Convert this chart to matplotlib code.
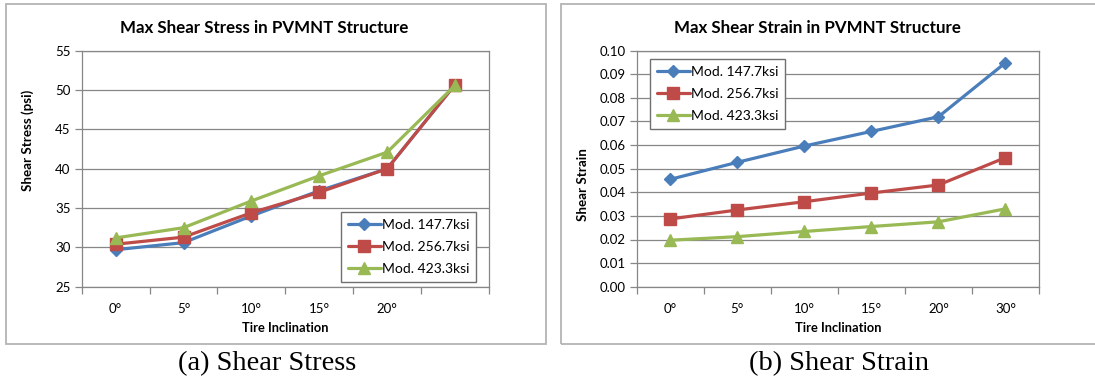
import matplotlib
matplotlib.use("Agg")
import matplotlib.pyplot as plt
from matplotlib.patches import Rectangle
from matplotlib.ticker import FixedLocator, FixedFormatter

# ---- data ----
stress_categories = ["0°", "5°", "10°", "15°", "20°", ""]
strain_categories = ["0°", "5°", "10°", "15°", "20°", "30°"]
series_labels = ["Mod. 147.7ksi", "Mod. 256.7ksi", "Mod. 423.3ksi"]

stress_147 = [29.7, 30.6, 34.0, 37.2, 40.0, 50.7]
stress_256 = [30.4, 31.3, 34.4, 37.0, 40.0, 50.7]
stress_423 = [31.2, 32.5, 35.9, 39.1, 42.1, 50.6]

strain_147 = [0.0455, 0.0527, 0.0596, 0.0658, 0.0720, 0.0949]
strain_256 = [0.0287, 0.0325, 0.0360, 0.0397, 0.0431, 0.0547]
strain_423 = [0.0197, 0.0212, 0.0234, 0.0255, 0.0275, 0.0330]

colors = ["#4A7EBB", "#BE4B48", "#98B954"]
markers = ["D", "s", "^"]
msizes = [6.5, 8, 8.5]

W, H = 1095, 381
fig = plt.figure(figsize=(W / 100, H / 100), dpi=100)
fig.patch.set_facecolor("white")

FONT = "Lato"
GRID = "#878787"


def fx(px):
    return px / W


def fy(py):
    return 1 - py / H


def panel(x0, y0, x1, y1):
    fig.add_artist(Rectangle((fx(x0), fy(y1)), fx(x1 - x0), (y1 - y0) / H,
                             transform=fig.transFigure, fill=False,
                             edgecolor="#B4B4B4", lw=1.3, zorder=0))


def chart(ax_box, cats, series, ylim, yticks, yfmt, legend_box):
    x0, y0, x1, y1 = ax_box
    ax = fig.add_axes([fx(x0), fy(y1), fx(x1 - x0), (y1 - y0) / H])
    n = len(cats)
    xs = list(range(n))
    for vals, c, m, ms, lab in zip(series, colors, markers, msizes, series_labels):
        ax.plot(xs, vals, color=c, lw=2.3, marker=m, ms=ms, mec=c, mfc=c,
                label=lab, zorder=3, solid_capstyle="round")
    ax.set_xlim(-0.5, n - 0.5)
    ax.set_ylim(*ylim)
    ax.yaxis.set_major_locator(FixedLocator(yticks))
    ax.yaxis.set_major_formatter(FixedFormatter([yfmt.format(v) for v in yticks]))
    ax.grid(axis="y", color=GRID, lw=0.9, zorder=1)
    ax.set_axisbelow(True)
    # category boundaries carry the tick marks, centres carry the labels
    ax.xaxis.set_major_locator(FixedLocator([i - 0.5 for i in range(n + 1)]))
    ax.xaxis.set_major_formatter(FixedFormatter([""] * (n + 1)))
    ax.xaxis.set_minor_locator(FixedLocator(xs))
    ax.xaxis.set_minor_formatter(FixedFormatter(cats))
    ax.tick_params(axis="x", which="major", length=5, color=GRID, width=0.9, direction="out")
    ax.tick_params(axis="x", which="minor", length=0, pad=12, labelsize=9.5)
    ax.tick_params(axis="y", length=5, color=GRID, width=0.9, direction="out",
                   labelsize=9.5, pad=3)
    for lab in ax.get_xticklabels(minor=True) + ax.get_yticklabels():
        lab.set_fontfamily(FONT)
    for s in ax.spines.values():
        s.set_color(GRID)
        s.set_linewidth(0.9)
    lx0, ly0, lx1, ly1 = legend_box
    leg = ax.legend(loc="center",
                    bbox_to_anchor=(fx((lx0 + lx1) / 2), fy((ly0 + ly1) / 2)),
                    bbox_transform=fig.transFigure,
                    prop={"family": FONT, "size": 10},
                    frameon=True, fancybox=False, framealpha=1,
                    edgecolor="#707070", borderpad=0.5, labelspacing=0.7,
                    handlelength=2.4, handletextpad=0.05, borderaxespad=0)
    leg.get_frame().set_linewidth(1.0)
    return ax


# left panel: shear stress
panel(6, 4, 546, 344)
chart((81.7, 50.7, 489, 286.7), stress_categories,
      [stress_147, stress_256, stress_423], (25, 55), list(range(25, 56, 5)),
      "{:.0f}", (345, 213, 472, 281))
fig.text(fx(264), fy(28), "Max Shear Stress in PVMNT Structure", ha="center",
         va="center", fontsize=12.2, fontweight="bold", family=FONT)
fig.text(fx(28), fy(140), "Shear Stress (psi)", rotation=90, ha="center",
         va="center", fontsize=9.6, fontweight="bold", family=FONT)
fig.text(fx(285), fy(328), "Tire Inclination", ha="center", va="center",
         fontsize=9.3, fontweight="bold", family=FONT)

# right panel: shear strain
panel(561, 4, 1100, 344)
chart((636.7, 50.7, 1039, 286.7), strain_categories,
      [strain_147, strain_256, strain_423], (0, 0.10),
      [i / 100 for i in range(11)], "{:.2f}", (655, 61, 780, 127))
fig.text(fx(817), fy(28), "Max Shear Strain in PVMNT Structure", ha="center",
         va="center", fontsize=12.2, fontweight="bold", family=FONT)
fig.text(fx(583), fy(185), "Shear Strain", rotation=90, ha="center",
         va="center", fontsize=9.6, fontweight="bold", family=FONT)
fig.text(fx(838), fy(328), "Tire Inclination", ha="center", va="center",
         fontsize=9.3, fontweight="bold", family=FONT)

# captions
fig.text(fx(267), fy(364), "(a) Shear Stress", ha="center", va="center",
         fontsize=20.5, family="Liberation Serif")
fig.text(fx(839), fy(364), "(b) Shear Strain", ha="center", va="center",
         fontsize=20.5, family="Liberation Serif")

fig.savefig("out.png", dpi=100, facecolor="white")
